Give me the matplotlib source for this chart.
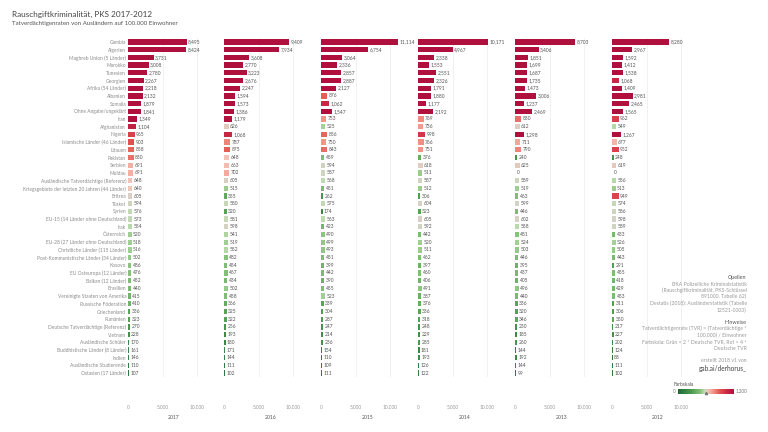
import matplotlib
matplotlib.use("Agg")
import matplotlib.pyplot as plt
import numpy as np
from matplotlib.colors import LinearSegmentedColormap, Normalize

plt.rcParams['font.family'] = ['Lato', 'DejaVu Sans']

categories = [
    "Gambia", "Algerien", "Maghreb Union (5 Länder)", "Marokko", "Tunesien",
    "Georgien", "Afrika (54 Länder)", "Albanien", "Somalia", "Ohne Angabe/ungeklärt",
    "Iran", "Afghanistan", "Nigeria", "Islamische Länder (46 Länder)", "Litauen",
    "Pakistan", "Serbien", "Moldau", "Ausländische Tatverdächtige (Referenz)",
    "Kriegsgebiete der letzten 20 Jahren (44 Länder)", "Eritrea", "Türkei", "Syrien",
    "EU-15 (14 Länder ohne Deutschland)", "Irak", "Österreich",
    "EU-28 (27 Länder ohne Deutschland)", "Christliche Länder (115 Länder)",
    "Post-Kommunistische Länder (34 Länder)", "Kosovo", "EU Osteuropa (12 Länder)",
    "Balkan (12 Länder)", "Brasilien", "Vereinigte Staaten von Amerika",
    "Russische Föderation", "Griechenland", "Rumänien",
    "Deutsche Tatverdächtige (Referenz)", "Vietnam", "Ausländische Schüler",
    "Buddhistische Länder (8 Länder)", "Indien", "Ausländische Studierende",
    "Ostasien (17 Länder)",
]

years = ["2017", "2016", "2015", "2014", "2013", "2012"]

v2017 = [8495, 8424, 3731, 3008, 2780, 2267, 2218, 2132, 1879, 1841, 1349,
         1104, 965, 903, 858, 830, 691, 691, 648, 640, 605, 594, 576,
         573, 554, 520, 518, 516, 502, 486, 476, 452, 440, 415, 410, 336, 323,
         270, 228, 170, 161, 146, 110, 107]
v2016 = [9409, 7934, 3608, 2770, 3223, 2676, 2247, 1594, 1573, 1386, 1179,
         626, 1068, 787, 875, 648, 663, 702, 605, 515, 355, 580, 320,
         581, 598, 541, 519, 552, 482, 454, 467, 434, 502, 458, 366, 325, 322,
         256, 193, 180, 171, 144, 111, 102]
v2015 = [11114, 6754, 3064, 2336, 2857, 2887, 2127, 876, 1062, 1547, 753,
         525, 856, 750, 843, 459, 594, 587, 568, 451, 262, 575, 174,
         563, 423, 490, 499, 493, 451, 399, 442, 390, 455, 523, 339, 304, 287,
         247, 214, 236, 154, 110, 109, 111]
v2014 = [10171, 4967, 2338, 1553, 2551, 2326, 1791, 1880, 1177, 2192, 769,
         736, 998, 766, 751, 376, 618, 511, 587, 512, 306, 604, 323,
         605, 592, 442, 520, 511, 462, 397, 460, 406, 491, 387, 376, 336, 318,
         248, 229, 285, 181, 193, 126, 122]
v2013 = [8703, 3406, 1851, 1699, 1687, 1735, 1473, 3006, 1237, 2469, 830,
         612, 1298, 711, 790, 240, 625, 0, 589, 519, 463, 599, 446,
         602, 558, 481, 524, 503, 446, 395, 437, 405, 496, 440, 336, 320, 346,
         230, 185, 260, 144, 192, 144, 99]
v2012 = [8280, 2967, 1592, 1412, 1538, 1068, 1409, 2981, 2465, 1565, 962,
         549, 1267, 677, 952, 248, 619, 0, 556, 513, 949, 574, 586,
         598, 589, 433, 526, 505, 443, 291, 455, 418, 429, 453, 311, 306, 350,
         217, 227, 202, 124, 88, 111, 102]

series = [v2017, v2016, v2015, v2014, v2013, v2012]

tick_values = [0, 5000, 10000]
tick_labels = ["0", "5.000", "10.000"]

color_min, color_max = 0, 1200

cmap = LinearSegmentedColormap.from_list(
    "rg",
    [(0.0, "#1d6a35"), (0.25, "#4f9d50"), (0.40, "#86c27a"), (0.47, "#bcdcae"),
     (0.50, "#d6d1c6"), (0.54, "#f3c2b6"), (0.62, "#f09a8a"), (0.75, "#e4514f"),
     (0.88, "#c92845"), (1.0, "#b0103d")])
norm = Normalize(vmin=color_min, vmax=color_max, clip=True)

W, H = 768, 432
fig = plt.figure(figsize=(W / 100, H / 100), dpi=100)
fig.patch.set_facecolor("white")

def fx(px):
    return px / W

def fy(py):
    return 1 - py / H

# title
fig.text(fx(12), fy(14), "Rauschgiftkriminalität, PKS 2017-2012", fontsize=5.9,
         color="#444444", va="center", ha="left")
fig.text(fx(12), fy(23.5), "Tatverdächtigenraten von Ausländern auf 100.000 Einwohner",
         fontsize=4.4, color="#555555", va="center", ha="left")

n = len(categories)
row_h = 7.7
top = 42 - row_h / 2
bottom = top + n * row_h
panel_starts = [128, 224.3, 321.3, 418.3, 515.3, 612]
panel_w = 92
px_per_5000 = 34.5
xmax = panel_w / px_per_5000 * 5000

for k, (yr, vals) in enumerate(zip(years, series)):
    ax = fig.add_axes([fx(panel_starts[k]), fy(bottom), panel_w / W, (bottom - top) / H])
    ypos = np.arange(n)
    cols = [cmap(norm(v)) for v in vals]
    ax.barh(ypos, vals, height=0.68, color=cols, zorder=3)
    for i, v in enumerate(vals):
        ax.text(v + 220, i, f"{v:,}", fontsize=3.5, color="#555555",
                va="center", ha="left", clip_on=False, zorder=4)
    ax.set_ylim(n - 0.5, -0.5)
    ax.set_xlim(0, xmax)
    for g in tick_values[1:]:
        ax.axvline(g, color="#ececec", lw=0.5, zorder=1)
    for s in ax.spines.values():
        s.set_visible(False)
    ax.set_xticks(tick_values)
    ax.set_xticklabels(tick_labels)
    ax.tick_params(axis="x", length=0, pad=20.5, labelsize=3.4, labelcolor="#999999")
    ax.set_xlabel(yr, fontsize=3.7, color="#555555", labelpad=2.5)
    ax.xaxis.set_label_coords((174 - 128) / panel_w, -(415 - bottom) / (bottom - top))
    if k == 0:
        ax.set_yticks(ypos)
        ax.set_yticklabels(categories)
        ax.tick_params(axis="y", length=0, pad=1.4, labelsize=3.55, labelcolor="#8c8c8c")
    else:
        ax.set_yticks([])
    ax.set_facecolor("none")

# notes on the right
rx = fx(746.7)
nc = "#9a9a9a"
nfs = 3.7
notes = [
    (278.0, "Quellen", "#555555", 3.9),
    (284.3, "BKA Polizeiliche Kriminalstatistik", nc, nfs),
    (290.5, "(Rauschgiftkriminalität, PKS-Schlüssel", nc, nfs),
    (296.8, "891000, Tabelle 62)", nc, nfs),
    (303.5, "Destatis (2018): Ausländerstatistik (Tabelle", nc, nfs),
    (310.0, "12521-0003)", nc, nfs),
    (322.3, "Hinweise", "#555555", 3.9),
    (328.7, "Tatverdächtigenrate (TVR) = (Tatverdächtige *", nc, nfs),
    (335.0, "100.000) / Einwohner", nc, nfs),
    (341.3, "Farbskala: Grün < 2 * Deutsche TVR, Rot < 4 *", nc, nfs),
    (348.0, "Deutsche TVR", nc, nfs),
    (360.7, "erstellt 2018 v1 von", nc, nfs),
]
for yy, txt, c, fs in notes:
    fig.text(rx, fy(yy), txt, fontsize=fs, color=c, ha="right", va="center")
fig.text(rx, fy(368.5), "gab.ai/derhorus_", fontsize=4.7, color="#444444",
         ha="right", va="center")

# color legend
fig.text(fx(673), fy(385), "Farbskala", fontsize=3.5, color="#555555", ha="left", va="center")
cax = fig.add_axes([fx(678), fy(393.7), (734 - 678) / W, 4.7 / H])
grad = np.linspace(color_min, color_max, 256).reshape(1, -1)
cax.imshow(grad, aspect="auto", cmap=cmap, norm=norm,
           extent=[color_min, color_max, 0, 1])
cax.set_axis_off()
cax.plot([600], [0.05], marker="^", ms=1.6, color="#777777", clip_on=False)
fig.text(fx(676), fy(391.5), "0", fontsize=3.3, color="#777777", ha="right", va="center")
fig.text(fx(735.5), fy(391.5), "1.200", fontsize=3.3, color="#777777", ha="left", va="center")

fig.savefig("out.png", dpi=100, facecolor="white")
